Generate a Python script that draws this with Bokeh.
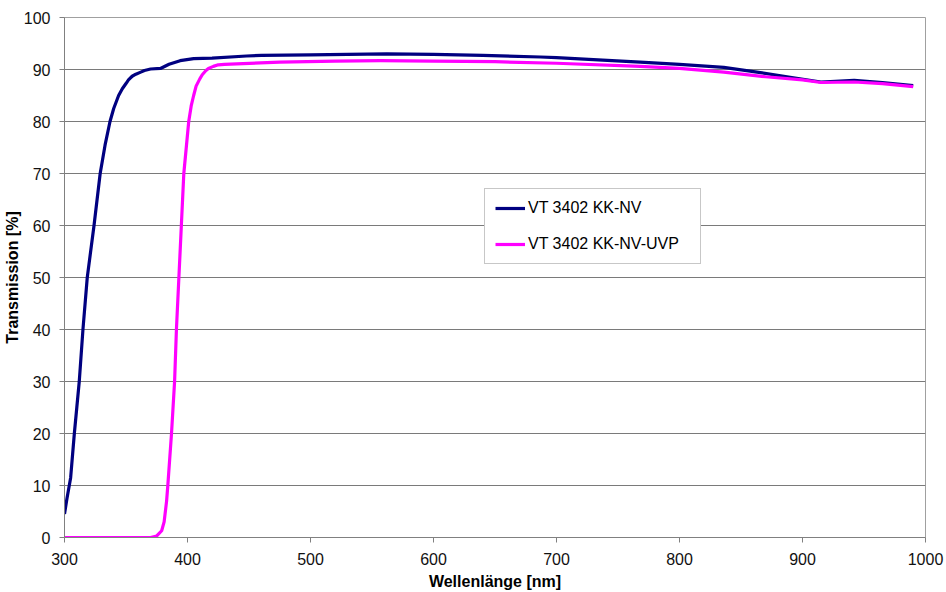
from bokeh.plotting import figure
from bokeh.models import Range1d, FixedTicker
from bokeh.embed import file_html
from bokeh.resources import INLINE

# --- data ---
nv_nm = [300, 302, 305, 308, 310, 312, 315, 318.5, 324, 329, 333, 337, 340, 344, 347, 350, 352,
         355, 358, 362, 365, 370, 378, 385, 394, 405, 420, 448, 460, 500, 530, 562, 600, 640,
         687, 700, 730, 768, 800, 836, 863, 890, 915, 942, 965, 990]
nv_t = [4.5, 7.5, 11.5, 20, 25, 30, 40, 50, 60, 70, 75.5, 80, 82.5, 85, 86.3, 87.3, 88,
        88.7, 89.1, 89.5, 89.8, 90.1, 90.2, 91.0, 91.7, 92.1, 92.2, 92.6, 92.7, 92.8, 92.9, 93.0, 92.9, 92.7,
        92.4, 92.3, 91.9, 91.4, 91.0, 90.4, 89.5, 88.5, 87.6, 87.9, 87.5, 86.9]

uvp_nm = [300, 370, 375, 379, 381, 383, 384, 387, 389.5, 391, 393, 395, 397, 401, 403, 405, 407,
          410, 412, 415, 417, 421, 425, 430, 440, 475, 520, 557, 600, 650, 700, 768, 800, 836,
          870, 900, 915, 942, 965, 990]
uvp_t = [0, 0, 0.3, 1.3, 3, 7, 10, 20, 30, 40, 50, 60, 70, 80, 83, 85, 86.8,
         88.2, 89, 89.8, 90.2, 90.6, 90.9, 91.0, 91.1, 91.4, 91.6, 91.7, 91.6, 91.5, 91.2, 90.6, 90.2, 89.5,
         88.6, 88.0, 87.5, 87.6, 87.3, 86.7]

series_names = ["VT 3402 KK-NV", "VT 3402 KK-NV-UVP"]
x_ticks = [300, 400, 500, 600, 700, 800, 900, 1000]
y_ticks = [0, 10, 20, 30, 40, 50, 60, 70, 80, 90, 100]

FONT = "Liberation Sans"

p = figure(width=946, height=592, output_backend="svg", toolbar_location=None,
           x_range=Range1d(300, 1000), y_range=Range1d(0, 100),
           min_border_left=64, min_border_right=21, min_border_top=17, min_border_bottom=55)

p.background_fill_color = "white"
p.border_fill_color = "white"
p.outline_line_color = "#a0a0a0"
p.outline_line_width = 1

p.line(nv_nm, nv_t, line_color="#000080", line_width=3.2, line_join="round",
       legend_label=series_names[0])
p.line(uvp_nm, uvp_t, line_color="#ff00ff", line_width=3.2, line_join="round",
       legend_label=series_names[1])

# axes
p.xaxis.ticker = FixedTicker(ticks=x_ticks)
p.yaxis.ticker = FixedTicker(ticks=y_ticks)
p.xaxis.axis_label = "Wellenlänge [nm]"
p.yaxis.axis_label = "Transmission [%]"
for ax in (p.xaxis, p.yaxis):
    ax.axis_label_text_font = FONT
    ax.axis_label_text_font_style = "bold"
    ax.axis_label_text_font_size = "16px"
    ax.axis_label_text_color = "black"
    ax.major_label_text_font = FONT
    ax.major_label_text_font_size = "16px"
    ax.major_label_text_color = "#111111"
    ax.axis_line_color = "#808080"
    ax.major_tick_line_color = "#808080"
    ax.minor_tick_line_color = None
    ax.major_tick_in = 0
    ax.major_tick_out = 5
p.xaxis.major_label_standoff = 10
p.xaxis.axis_label_standoff = 5
p.yaxis.major_label_standoff = 9
p.yaxis.axis_label_standoff = 0

p.xgrid.grid_line_color = None
p.ygrid.grid_line_color = "#7a7a7a"
p.ygrid.grid_line_width = 1

# legend
lg = p.legend[0]
lg.location = (420, 273)
lg.border_line_color = "#909090"
lg.border_line_width = 1
lg.background_fill_color = "white"
lg.background_fill_alpha = 1
lg.padding = 10
lg.margin = 0
lg.spacing = 18
lg.glyph_width = 30
lg.glyph_height = 18
lg.label_height = 18
lg.label_width = 162
lg.label_standoff = 3
lg.label_text_font = FONT
lg.label_text_font_size = "16px"
lg.label_text_color = "black"

open("out.html", "w").write(file_html(p, INLINE))
